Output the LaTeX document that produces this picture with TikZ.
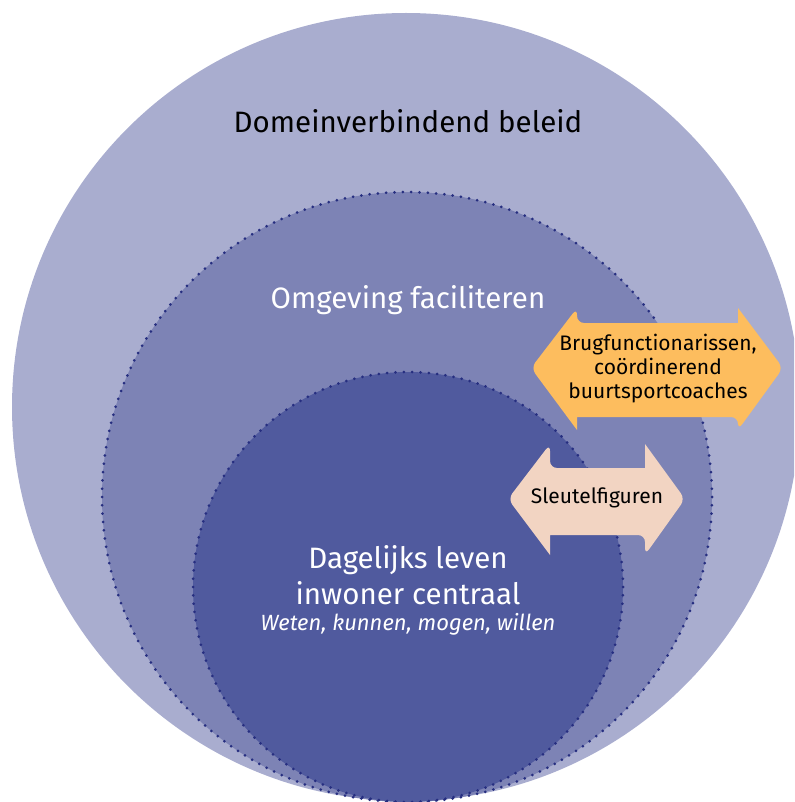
\documentclass[tikz,border=0pt]{standalone}
\usepackage{fontspec}
\usetikzlibrary{calc}
\setmainfont{Fira Sans}
\definecolor{outerc}{HTML}{A9ADCF}
\definecolor{midc}{HTML}{7D83B5}
\definecolor{innerc}{HTML}{505A9E}
\definecolor{dotc}{HTML}{262E80}
\definecolor{orangec}{HTML}{FDBD5E}
\definecolor{peachc}{HTML}{F2D4C2}
\tikzset{
  dotmark/.style={fill=dotc},
  bigtext/.style={font=\fontsize{29.5}{36}\selectfont, align=center, inner sep=0pt},
  arrtext/.style={font=\fontsize{21}{24}\selectfont, align=center, inner sep=0pt, text=black},
}
\begin{document}
\begin{tikzpicture}[x=1pt,y=-1pt]
\useasboundingbox (0,0) rectangle (794,802);
\clip (0,0) rectangle (794,802);
\fill[outerc] (406,407) circle (394);
\fill[midc] (407,497) circle (305);
\foreach \i in {0,...,229} {
  \fill[dotmark, shift={(407,497)}] ({360/230*\i}:305) circle (1.5);
}
\fill[innerc] (408,587) circle (215);
\foreach \i in {0,...,161} {
  \fill[dotmark, shift={(408,587)}] ({360/162*\i}:215) circle (1.5);
}
% orange double arrow
\path[fill=orangec, rounded corners=7pt] (531,368) -- (577,308) -- (577,323)[sharp corners] -- (738,323) -- (738,308)[rounded corners=7pt] -- (783,368) -- (738,430) -- (738,417)[sharp corners] -- (577,417) -- (577,430)[rounded corners=7pt] -- cycle;
% peach double arrow
\path[fill=peachc, rounded corners=7pt] (508,499) -- (550,444) -- (550,468)[sharp corners] -- (645,468) -- (645,444)[rounded corners=7pt] -- (685,499) -- (645,555) -- (645,535)[sharp corners] -- (550,535) -- (550,555)[rounded corners=7pt] -- cycle;
\node[bigtext, anchor=base, text=black] (dom) at (408,133) {Domeinverbindend beleid};
\node[bigtext, anchor=base, text=white] (omg) at (408,308) {Omgeving faciliteren};
\node[bigtext, anchor=base, text=white] (dag) at (408,568) {Dagelijks leven};
\node[bigtext, anchor=base, text=white] (inw) at (408,604) {inwoner centraal};
\node[font=\fontsize{22}{28}\selectfont\itshape, anchor=base, text=white, inner sep=0pt] (wet) at (408,630) {Weten, kunnen, mogen, willen};
\node[arrtext, anchor=center] (brug) at (658,369) {Brugfunctionarissen,\\coördinerend\\buurtsportcoaches};
\node[arrtext, anchor=center] (sleu) at (597,498) {Sleutelfiguren};
\end{tikzpicture}
\end{document}
